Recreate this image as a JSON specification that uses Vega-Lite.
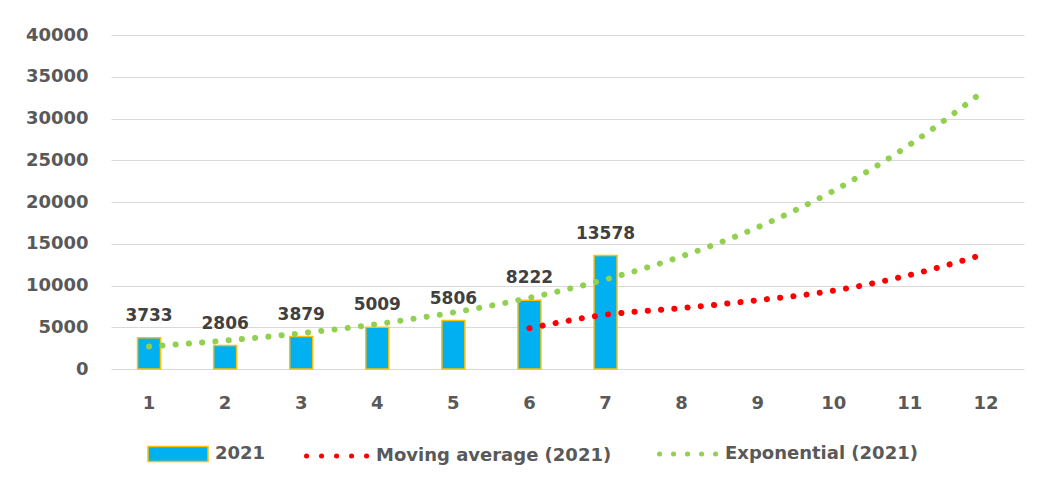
{
  "$schema": "https://vega.github.io/schema/vega-lite/v6.json",
  "autosize": "none",
  "width": 913,
  "height": 334,
  "padding": {"left": 111, "top": 35, "right": 16, "bottom": 117},
  "background": "white",
  "config": {
    "view": {"stroke": null},
    "font": "DejaVu Sans"
  },
  "data": {
    "values": [
      {"month": 1, "value": 3733, "ma": null, "expo": 2705},
      {"month": 2, "value": 2806, "ma": null, "expo": 3403},
      {"month": 3, "value": 3879, "ma": null, "expo": 4281},
      {"month": 4, "value": 5009, "ma": null, "expo": 5386},
      {"month": 5, "value": 5806, "ma": null, "expo": 6776},
      {"month": 6, "value": 8222, "ma": 4880, "expo": 8525},
      {"month": 7, "value": 13578, "ma": 6500, "expo": 10725},
      {"month": 8, "value": null, "ma": 7290, "expo": 13493},
      {"month": 9, "value": null, "ma": 8240, "expo": 16976},
      {"month": 10, "value": null, "ma": 9380, "expo": 21357},
      {"month": 11, "value": null, "ma": 11260, "expo": 26870},
      {"month": 12, "value": null, "ma": 13800, "expo": 33500}
    ]
  },
  "encoding": {
    "x": {
      "field": "month",
      "type": "ordinal",
      "scale": {"paddingInner": 0, "paddingOuter": 0},
      "axis": {
        "title": null,
        "labelAngle": 0,
        "domain": false,
        "ticks": false,
        "grid": false,
        "labelFont": "DejaVu Sans",
        "labelFontSize": 18,
        "labelFontWeight": "bold",
        "labelColor": "#595959",
        "labelPadding": 25
      }
    }
  },
  "layer": [
    {
      "mark": {"type": "bar", "size": 23, "stroke": "#FFC000", "strokeWidth": 1.5},
      "encoding": {
        "y": {
          "field": "value",
          "type": "quantitative",
          "scale": {"domain": [0, 40000], "nice": false},
          "axis": {
            "title": null,
            "values": [0, 5000, 10000, 15000, 20000, 25000, 30000, 35000, 40000],
            "format": "d",
            "domain": false,
            "ticks": false,
            "grid": true,
            "gridColor": "#D9D9D9",
            "gridWidth": 1,
            "labelFont": "DejaVu Sans",
            "labelFontSize": 18,
            "labelFontWeight": "bold",
            "labelColor": "#595959",
            "labelPadding": 23
          }
        },
        "fill": {
          "datum": "2021",
          "type": "nominal",
          "scale": {"range": ["#00B0F0"]},
          "legend": {
            "orient": "none",
            "legendX": 36,
            "legendY": 388,
            "title": null,
            "symbolType": "M-1,-0.25H1V0.25H-1Z",
            "symbolSize": 3600,
            "symbolStrokeColor": "#FFC000",
            "symbolStrokeWidth": 1.5,
            "symbolOpacity": 1,
            "labelFont": "DejaVu Sans",
            "labelFontSize": 18,
            "labelFontWeight": "bold",
            "labelColor": "#595959",
            "labelOffset": 6,
            "labelLimit": 400
          }
        }
      }
    },
    {
      "mark": {"type": "line", "strokeDash": [0.1, 13.2], "strokeCap": "round", "strokeWidth": 6, "interpolate": "monotone"},
      "encoding": {
        "y": {"field": "ma", "type": "quantitative"},
        "stroke": {
          "datum": "Moving average (2021)",
          "type": "nominal",
          "scale": {"range": ["#FF0000"]},
          "legend": {
            "orient": "none",
            "legendX": 193,
            "legendY": 388,
            "title": null,
            "symbolType": "stroke",
            "symbolSize": 3721,
            "symbolStrokeWidth": 5,
            "symbolDash": [0.1, 14.9],
            "labelFont": "DejaVu Sans",
            "labelFontSize": 18,
            "labelFontWeight": "bold",
            "labelColor": "#595959",
            "labelOffset": 6,
            "labelLimit": 400,
            "encode": {"symbols": {"update": {"strokeCap": {"value": "round"}, "strokeDash": {"value": [0.1, 14.9]}}}}
          }
        }
      }
    },
    {
      "mark": {"type": "line", "strokeDash": [0.1, 13.2], "strokeCap": "round", "strokeWidth": 6, "interpolate": "monotone"},
      "encoding": {
        "y": {"field": "expo", "type": "quantitative"},
        "stroke": {
          "datum": "Exponential (2021)",
          "type": "nominal",
          "scale": {"range": ["#92D050"]},
          "legend": {
            "orient": "none",
            "legendX": 546,
            "legendY": 388,
            "title": null,
            "symbolType": "stroke",
            "symbolSize": 3249,
            "symbolStrokeWidth": 5,
            "symbolDash": [0.1, 13.9],
            "labelFont": "DejaVu Sans",
            "labelFontSize": 18,
            "labelFontWeight": "bold",
            "labelColor": "#595959",
            "labelOffset": 6,
            "labelLimit": 400,
            "encode": {"symbols": {"update": {"strokeCap": {"value": "round"}, "strokeDash": {"value": [0.1, 13.9]}}}}
          }
        }
      }
    },
    {
      "mark": {"type": "text", "baseline": "alphabetic", "dy": -17, "font": "DejaVu Sans", "fontSize": 17, "fontWeight": "bold", "color": "#404040"},
      "encoding": {
        "y": {"field": "value", "type": "quantitative"},
        "text": {"field": "value", "type": "quantitative", "format": "d"}
      }
    }
  ],
  "resolve": {"scale": {"stroke": "independent"}}
}
